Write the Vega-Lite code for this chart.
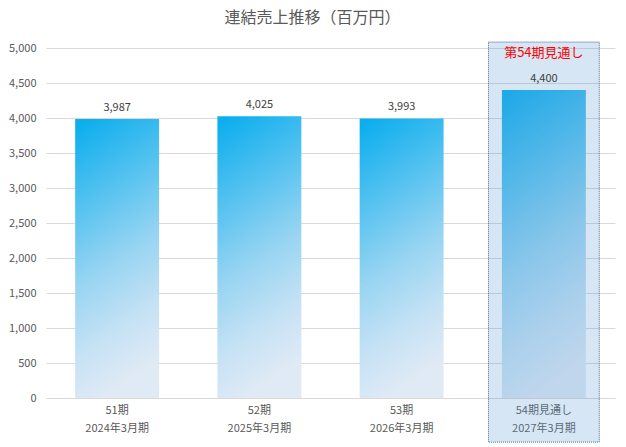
{
  "$schema": "https://vega.github.io/schema/vega-lite/v6.json",
  "width": 569,
  "height": 350,
  "autosize": "none",
  "padding": {"left": 46, "top": 48, "right": 11, "bottom": 49},
  "background": "white",
  "config": {
    "font": "Noto Sans CJK JP",
    "view": {"stroke": null},
    "axisY": {
      "title": null,
      "format": ",.0f",
      "labelOverlap": false,
      "labelFontSize": 11,
      "labelColor": "#595959",
      "labelPadding": 10,
      "domain": false,
      "ticks": false,
      "gridColor": "#D9D9D9",
      "gridWidth": 1
    },
    "axisX": {
      "title": null,
      "labelAngle": 0,
      "labelLineHeight": 18,
      "labelFontSize": 11,
      "labelColor": "#595959",
      "labelPadding": 6,
      "domain": false,
      "ticks": false
    }
  },
  "title": {
    "text": "連結売上推移（百万円）",
    "fontSize": 16,
    "fontWeight": "normal",
    "color": "#595959",
    "font": "Noto Sans CJK JP",
    "offset": 16,
    "dx": -18
  },
  "datasets": {
    "sales": [
      {"period": "51期|2024年3月期", "value": 3987},
      {"period": "52期|2025年3月期", "value": 4025},
      {"period": "53期|2026年3月期", "value": 3993},
      {"period": "54期見通し|2027年3月期", "value": 4400}
    ],
    "highlight": [
      {"period": "54期見通し|2027年3月期", "top": 5085, "bottom": -630, "note": "第54期見通し"}
    ]
  },
  "layer": [
    {
      "data": {"name": "sales"},
      "mark": {
        "type": "bar",
        "width": {"band": 1},
        "color": {
          "gradient": "linear",
          "x1": 0.15, "y1": 0, "x2": 0.35, "y2": 1,
          "stops": [
            {"offset": 0, "color": "#0DAEEE"},
            {"offset": 0.3, "color": "#58C3F0"},
            {"offset": 0.55, "color": "#97D4F2"},
            {"offset": 0.8, "color": "#C6E2F5"},
            {"offset": 1, "color": "#E0EAF5"}
          ]
        }
      },
      "encoding": {
        "x": {
          "field": "period", "type": "nominal", "sort": null,
          "scale": {"paddingInner": 0.41, "paddingOuter": 0.205},
          "axis": {"labelExpr": "split(datum.label, '|')"}
        },
        "y": {
          "field": "value", "type": "quantitative",
          "scale": {"domain": [0, 5000], "nice": false},
          "axis": {"values": [0, 500, 1000, 1500, 2000, 2500, 3000, 3500, 4000, 4500, 5000]}
        }
      }
    },
    {
      "data": {"name": "highlight"},
      "mark": {
        "type": "bar",
        "width": {"band": 1.32},
        "fill": "#5B9BD5",
        "fillOpacity": 0.25,
        "stroke": "#44688F",
        "strokeWidth": 1,
        "strokeDash": [1, 1]
      },
      "encoding": {
        "x": {"field": "period", "type": "nominal", "sort": null,
          "axis": {"labelExpr": "split(datum.label, '|')"}},
        "y": {"field": "top", "type": "quantitative",
          "axis": {"values": [0, 500, 1000, 1500, 2000, 2500, 3000, 3500, 4000, 4500, 5000]}},
        "y2": {"field": "bottom"}
      }
    },
    {
      "data": {"name": "sales"},
      "mark": {"type": "text", "baseline": "bottom", "dy": -6, "fontSize": 11, "color": "#404040"},
      "encoding": {
        "x": {"field": "period", "type": "nominal", "sort": null,
          "axis": {"labelExpr": "split(datum.label, '|')"}},
        "y": {"field": "value", "type": "quantitative",
          "axis": {"values": [0, 500, 1000, 1500, 2000, 2500, 3000, 3500, 4000, 4500, 5000]}},
        "text": {"field": "value", "type": "quantitative", "format": ","}
      }
    },
    {
      "data": {"name": "highlight"},
      "mark": {"type": "text", "baseline": "top", "dy": 5, "fontSize": 13, "color": "#FF0000"},
      "encoding": {
        "x": {"field": "period", "type": "nominal", "sort": null,
          "axis": {"labelExpr": "split(datum.label, '|')"}},
        "y": {"field": "top", "type": "quantitative",
          "axis": {"values": [0, 500, 1000, 1500, 2000, 2500, 3000, 3500, 4000, 4500, 5000]}},
        "text": {"field": "note"}
      }
    }
  ]
}
